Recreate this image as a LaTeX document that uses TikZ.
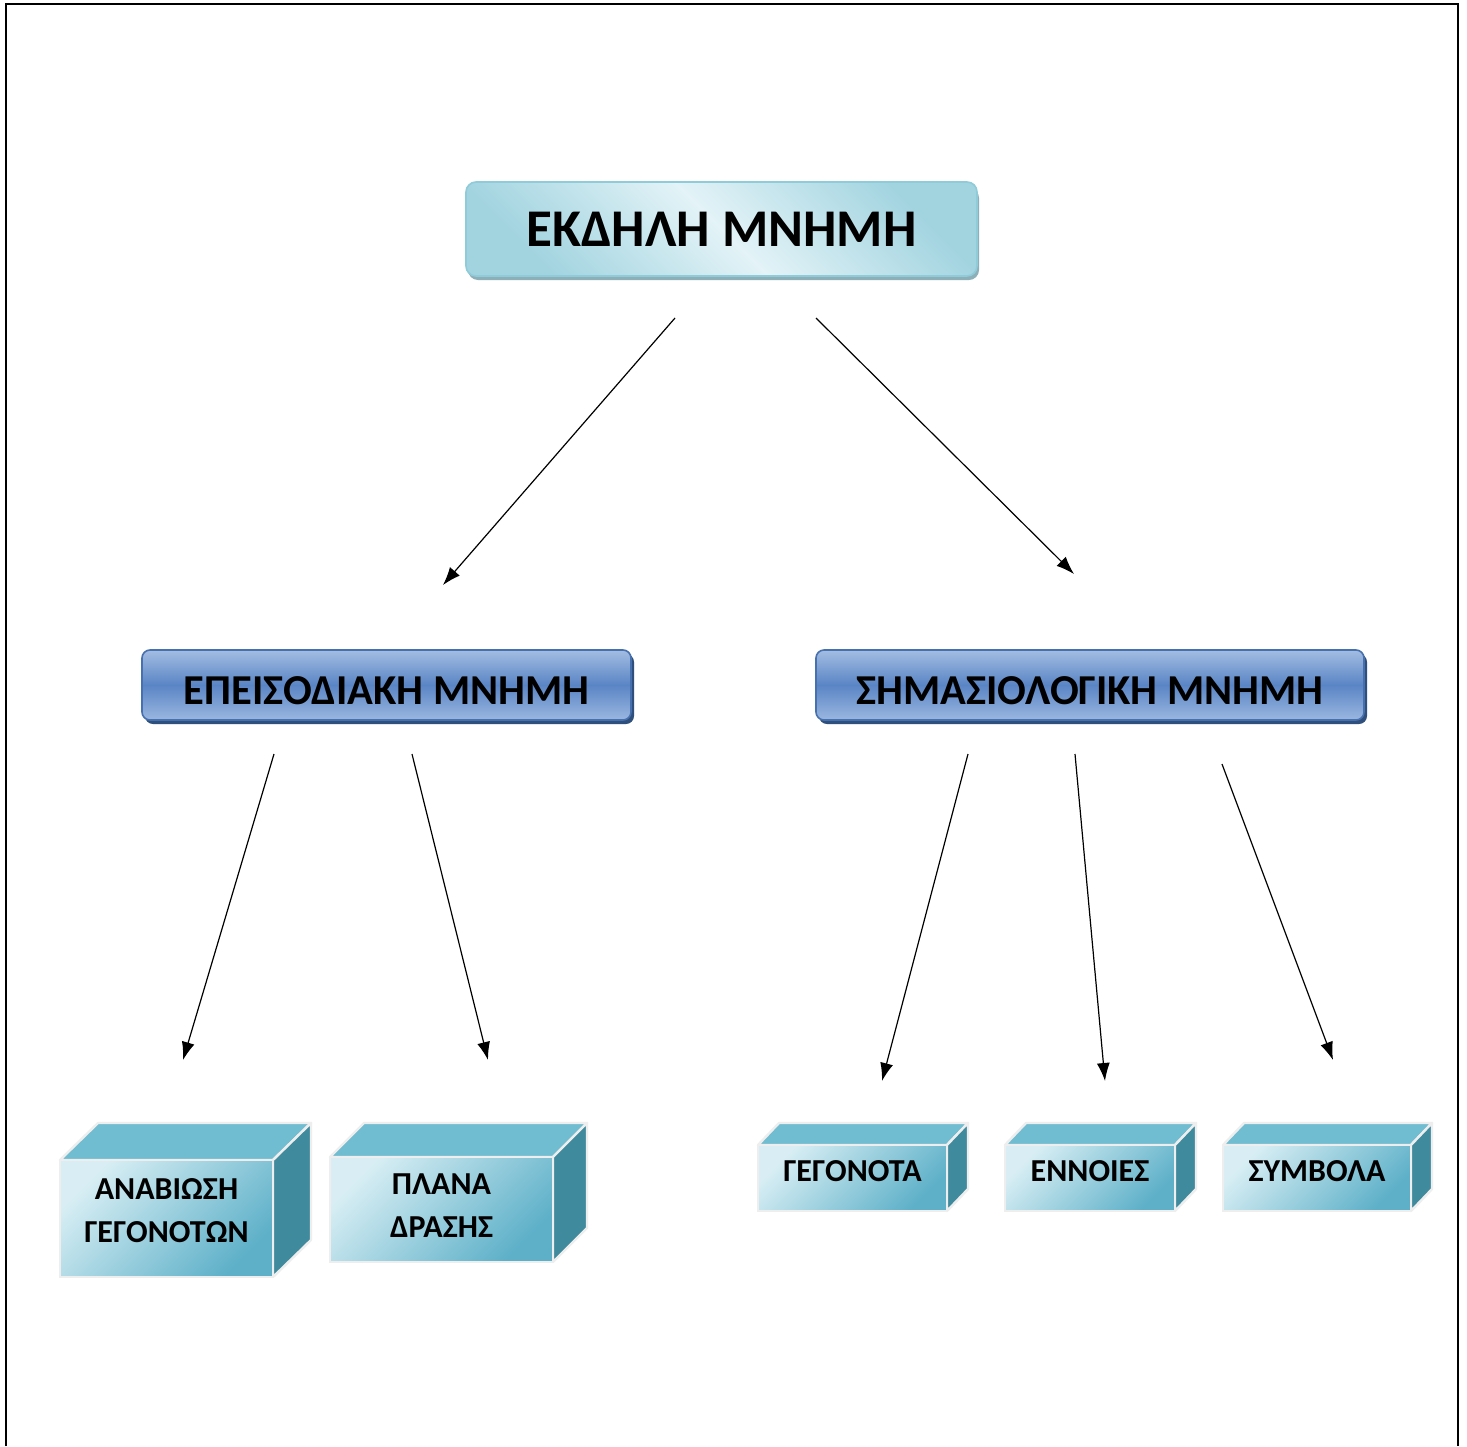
\documentclass[tikz,border=0pt]{standalone}
\usepackage{fontspec}
\setmainfont{Carlito}
\usetikzlibrary{arrows.meta}

\definecolor{capEdge}{HTML}{8FCBD8}
\definecolor{capDark}{HTML}{A2D4E0}
\definecolor{capLight}{HTML}{E3F3F7}
\definecolor{capShadow}{HTML}{8DAFB8}
\definecolor{barTop}{HTML}{A3BDE2}
\definecolor{barMid}{HTML}{5A85C5}
\definecolor{barBot}{HTML}{9BB7E0}
\definecolor{barEdge}{HTML}{4771AE}
\definecolor{barShadow}{HTML}{2F4F7C}
\definecolor{cubeLight}{HTML}{D8EEF4}
\definecolor{cubeDark}{HTML}{5DB0C8}
\definecolor{cubeTop}{HTML}{70BCD0}
\definecolor{cubeSide}{HTML}{3F8A9D}
\definecolor{cubeEdge}{HTML}{EEEEEE}

\tikzset{
  capbox/.style={rounded corners=5pt, draw=capEdge, line width=0.8pt,
    top color=capDark, bottom color=capDark, middle color=capLight, shading angle=-45,
    minimum width=255.5pt, minimum height=47pt, inner sep=0pt,
    font=\bfseries\fontsize{26.5}{30}\selectfont},
  capshadow/.style={rounded corners=5pt, fill=capShadow},
  barbox/.style={rounded corners=4pt, draw=barEdge, line width=0.8pt,
    top color=barTop, bottom color=barBot, middle color=barMid,
    minimum height=35pt, inner sep=0pt, text height=19.2pt, text depth=0pt,
    font=\bfseries\fontsize{21.3}{25}\selectfont},
  barshadow/.style={rounded corners=4pt, fill=barShadow},
  cubefront/.style={draw=cubeEdge, line width=1.2pt,
    top color=cubeLight, bottom color=cubeDark, shading angle=45},
  cubetext/.style={inner sep=0pt, align=center,
    font=\bfseries\fontsize{16}{21.5}\selectfont},
  cubeface/.style={draw=cubeEdge, line width=1.2pt, line join=round},
  link/.style={line width=0.6pt, -{Latex[length=9pt,width=6.5pt]}}
}

% cuboid: name, left, top, right, bottom, depth x, depth y, text, text lift
\newcommand\cuboidbox[9]{%
  \path[cubeface, fill=cubeTop] (#2,#3) -- ++(#6,-#7) -- (#4+#6,#3-#7) -- (#4,#3) -- cycle;
  \path[cubeface, fill=cubeSide] (#4,#3) -- (#4+#6,#3-#7) -- (#4+#6,#5-#7) -- (#4,#5) -- cycle;
  \path[cubefront] (#2,#3) rectangle (#4,#5);
  \node[cubetext] (#1) at ({(#2+#4)/2},{(#3+#5)/2-#9}) {#8};%
}

\begin{document}
\begin{tikzpicture}[x=0.5pt,y=-0.5pt]
\useasboundingbox (0,0) rectangle (1467,1446);
\fill[white] (0,0) rectangle (1467,1446);

% page frame
\draw[line width=1.2pt] (6,1446) -- (6,4) -- (1458,4) -- (1458,1446);

% top level
\fill[capshadow] (468,188) rectangle (979,280);
\node[capbox] (expl) at (721.5,229) {ΕΚΔΗΛΗ ΜΝΗΜΗ};

% second level
\fill[barshadow] (145,654) rectangle (634,724);
\node[barbox, minimum width=244.5pt] (epis) at (386.5,685) {ΕΠΕΙΣΟΔΙΑΚΗ ΜΝΗΜΗ};
\fill[barshadow] (819,654) rectangle (1367,724);
\node[barbox, minimum width=274pt] (sem) at (1090,685) {ΣΗΜΑΣΙΟΛΟΓΙΚΗ ΜΝΗΜΗ};

% third level
\cuboidbox{relive}{60}{1160}{273}{1277}{38}{37}{ΑΝΑΒΙΩΣΗ\\ΓΕΓΟΝΟΤΩΝ}{8}
\cuboidbox{plans}{330}{1157}{553}{1262}{34}{34}{ΠΛΑΝΑ\\ΔΡΑΣΗΣ}{4}
\cuboidbox{facts}{758}{1145}{947}{1211}{21}{22}{ΓΕΓΟΝΟΤΑ}{7}
\cuboidbox{concepts}{1005}{1145}{1175}{1211}{21}{22}{ΕΝΝΟΙΕΣ}{7}
\cuboidbox{symbols}{1223}{1145}{1411}{1211}{21}{22}{ΣΥΜΒΟΛΑ}{7}

% connector end points
\coordinate (s1) at (675,318);  \coordinate (e1) at (443,585);
\coordinate (s2) at (816,318);  \coordinate (e2) at (1074,574);
\coordinate (s3) at (274,754);  \coordinate (e3) at (183,1060);
\coordinate (s4) at (412,754);  \coordinate (e4) at (488,1060);
\coordinate (s5) at (968,754);  \coordinate (e5) at (882,1081);
\coordinate (s6) at (1075,754); \coordinate (e6) at (1105,1081);
\coordinate (s7) at (1222,764); \coordinate (e7) at (1333,1060);

\foreach \i in {1,...,7} \draw[link] (s\i) -- (e\i);
\end{tikzpicture}
\end{document}
